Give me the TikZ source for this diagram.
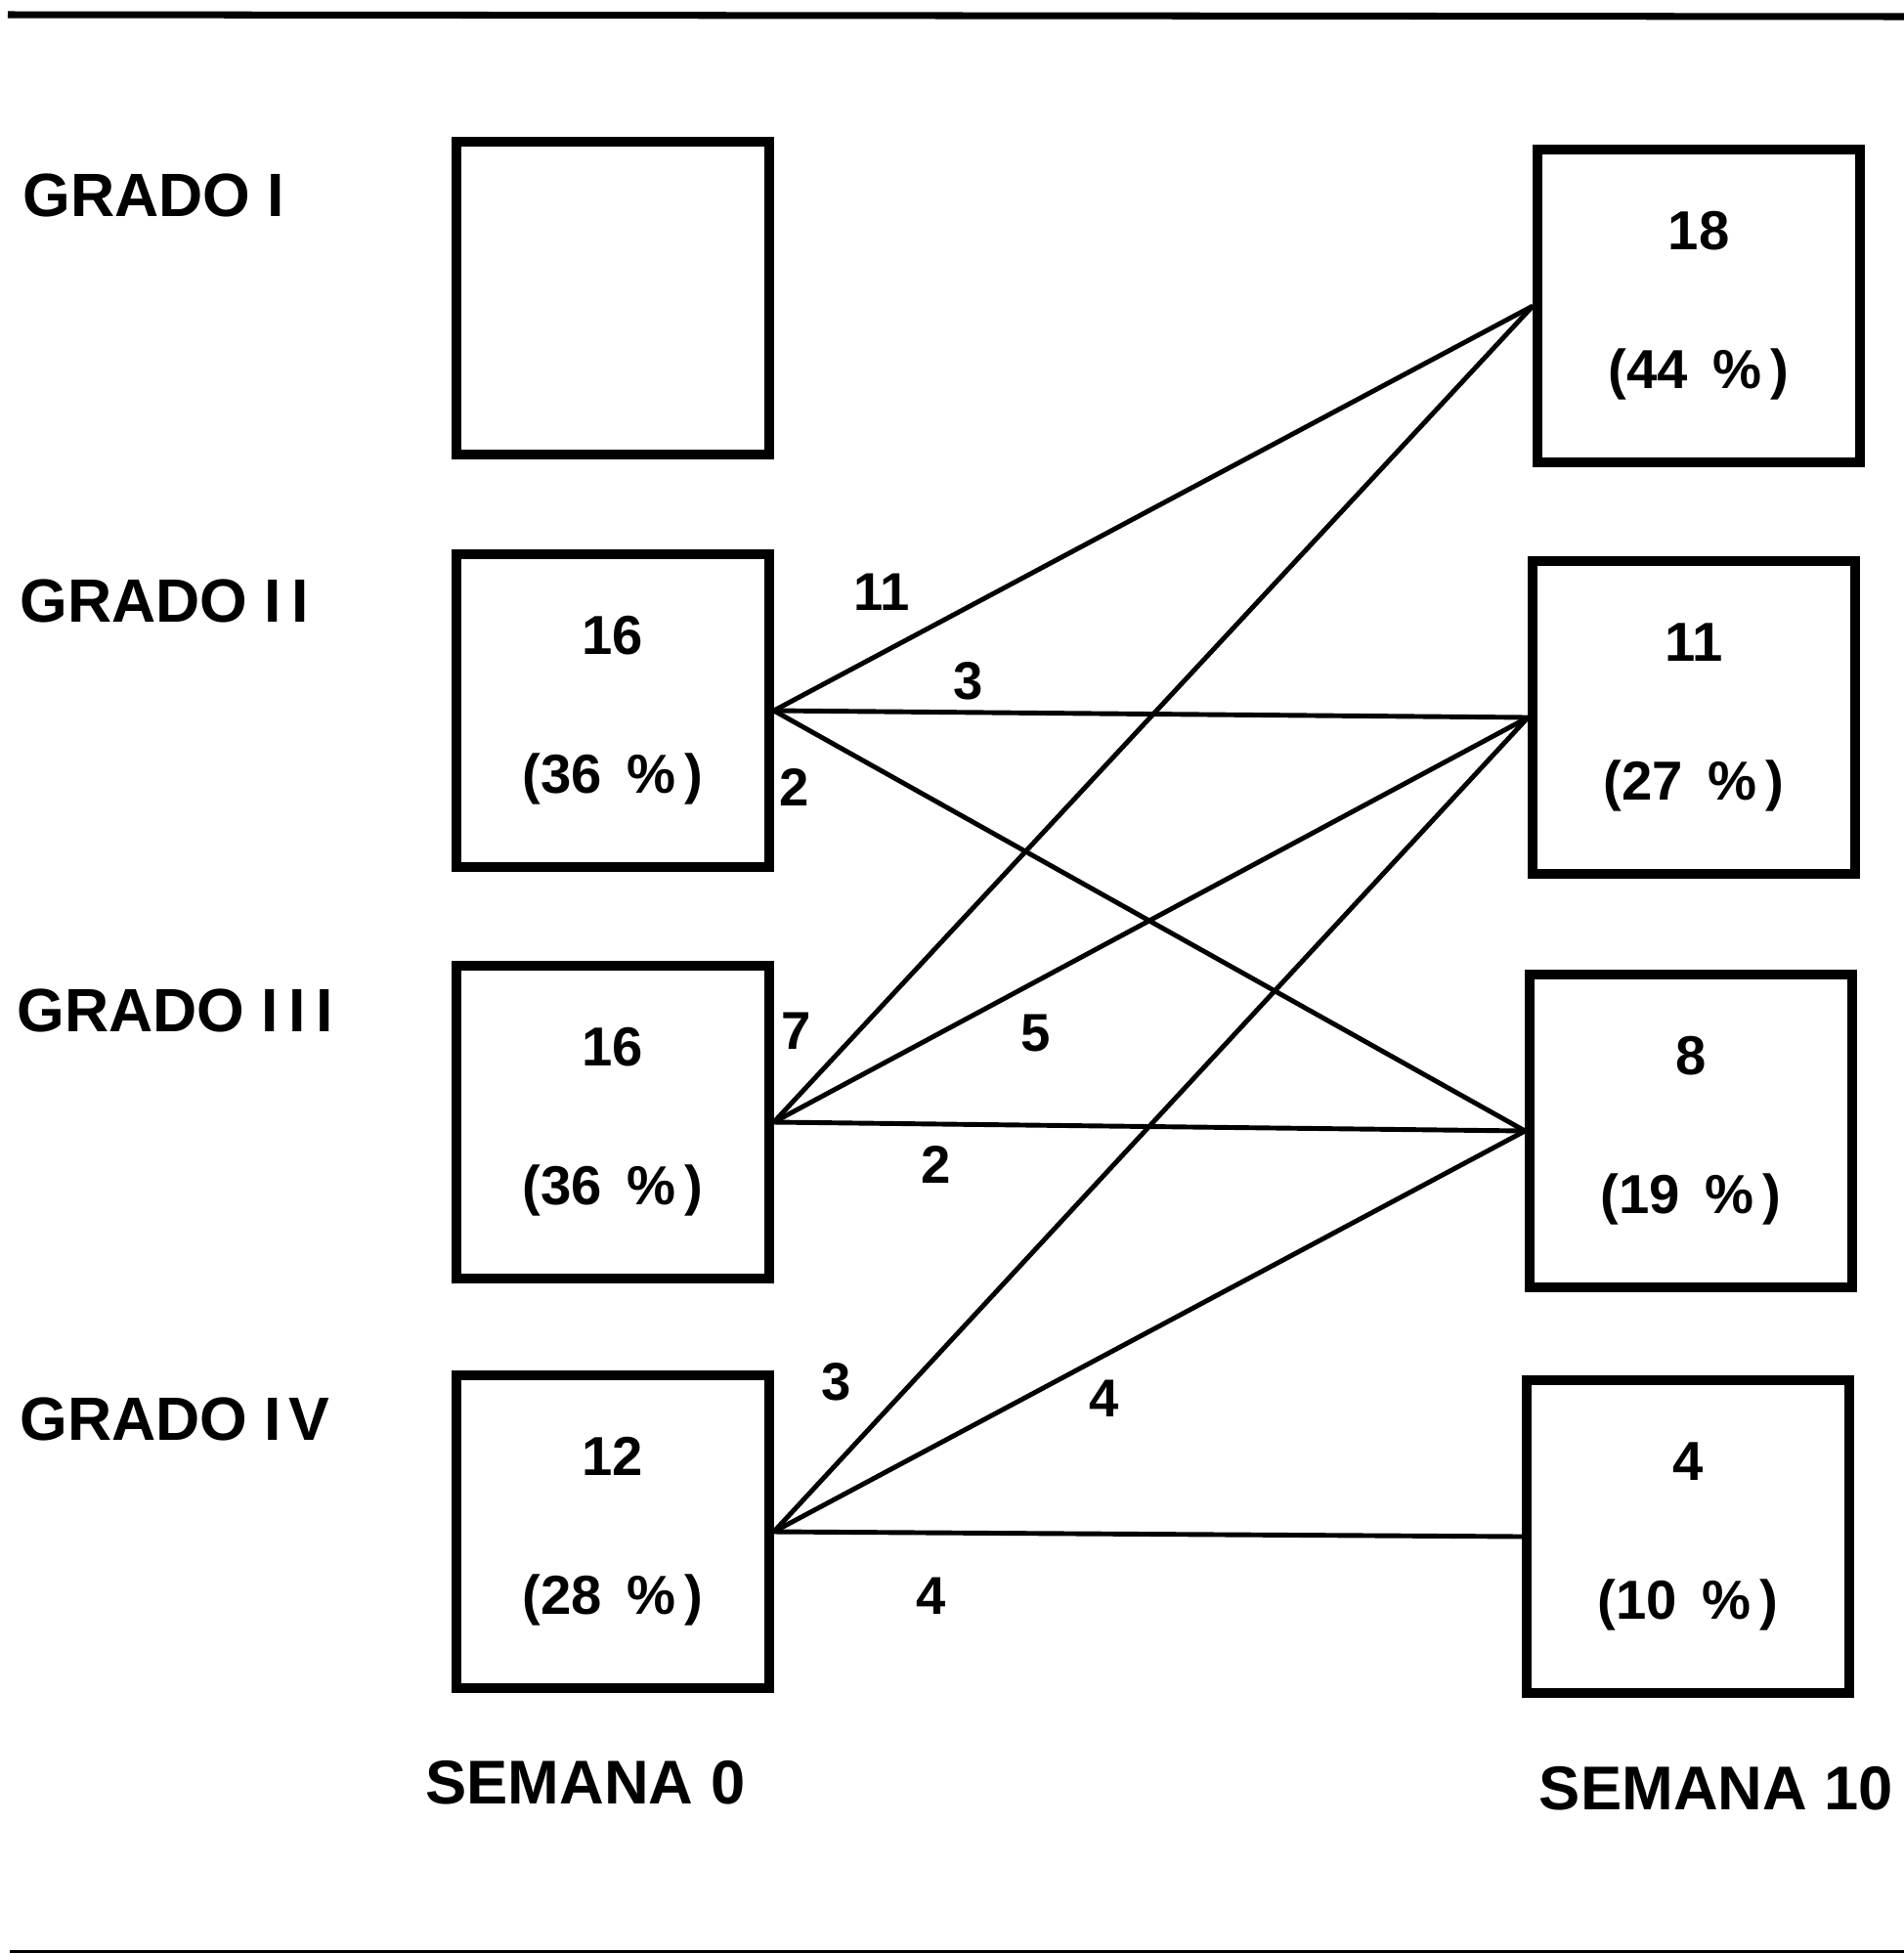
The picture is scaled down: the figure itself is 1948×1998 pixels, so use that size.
\documentclass[tikz,border=0pt]{standalone}
\usepackage{fontspec}
\setmainfont{Liberation Sans}
\usetikzlibrary{positioning}
\newcommand{\pct}[1]{(#1\ \,\%\,)}
\newcommand{\ii}{I\kern3pt I}
\tikzset{
  blk/.style={draw,line width=2.7pt,minimum width=3.2cm,minimum height=3.2cm,inner sep=0pt,
              align=center,font=\bfseries\fontsize{16}{40.5}\selectfont},
  blkr/.style={blk,minimum width=3.3cm},
  grado/.style={anchor=west,inner sep=0pt,font=\bfseries\fontsize{17.8}{20}\selectfont},
  sem/.style={inner sep=0pt,font=\bfseries\fontsize{18}{20}\selectfont},
  num/.style={inner sep=0pt,font=\bfseries\fontsize{15.5}{18}\selectfont},
  ln/.style={line width=1.4pt},
  rule/.style={line width=2pt},
}
\begin{document}
\begin{tikzpicture}[x=0.1mm,y=-0.1mm]
  \useasboundingbox (0,0) rectangle (1948,1998);
  % horizontal rules top and bottom
  \coordinate (tl) at (8,15);  \coordinate (tr) at (1948,17);
  \coordinate (bl) at (10,1997); \coordinate (br) at (1948,1997);
  \draw[rule] (tl) -- (tr);
  \draw[rule,line width=1.3pt] (bl) -- (br);
  % grades, week 0
  \node[grado] (lI)   at (23,200)  {GRADO I};
  \node[grado] (lII)  at (20,615)  {GRADO \ii};
  \node[grado] (lIII) at (17,1034) {GRADO \ii\kern3pt I};
  \node[grado] (lIV)  at (20,1452) {GRADO I\kern2pt V};
  \node[blk] (g1) at (627,305)  {};
  \node[blk] (g2) at (627,727)  {16\\\pct{36}};
  \node[blk] (g3) at (627,1148) {16\\\pct{36}};
  \node[blk] (g4) at (627,1567) {12\\\pct{28}};
  % week 10
  \node[blkr] (s1) at (1738,313)  {18\\\pct{44}};
  \node[blkr] (s2) at (1733,734)  {11\\\pct{27}};
  \node[blkr] (s3) at (1730,1157) {8\\\pct{19}};
  \node[blkr] (s4) at (1727,1572) {4\\\pct{10}};
  \node[sem] (w0)  at (599,1824)  {SEMANA 0};
  \node[sem] (w10) at (1756,1830) {SEMANA 10};
  % transitions
  \draw[ln] (g2.east) -- (s1.west);
  \draw[ln] (g2.east) -- (s2.west);
  \draw[ln] (g2.east) -- (s3.west);
  \draw[ln] (g3.east) -- (s1.west);
  \draw[ln] (g3.east) -- (s2.west);
  \draw[ln] (g3.east) -- (s3.west);
  \draw[ln] (g4.east) -- (s2.west);
  \draw[ln] (g4.east) -- (s3.west);
  \draw[ln] (g4.east) -- (s4.west);
  \node[num] (n21) at (902,606)   {11};
  \node[num] (n22) at (991,697)   {3};
  \node[num] (n23) at (813,805)   {2};
  \node[num] (n31) at (815,1055)  {7};
  \node[num] (n32) at (1060,1057) {5};
  \node[num] (n33) at (958,1191)  {2};
  \node[num] (n42) at (856,1414)  {3};
  \node[num] (n43) at (1130,1431) {4};
  \node[num] (n44) at (953,1633)  {4};
\end{tikzpicture}
\end{document}
